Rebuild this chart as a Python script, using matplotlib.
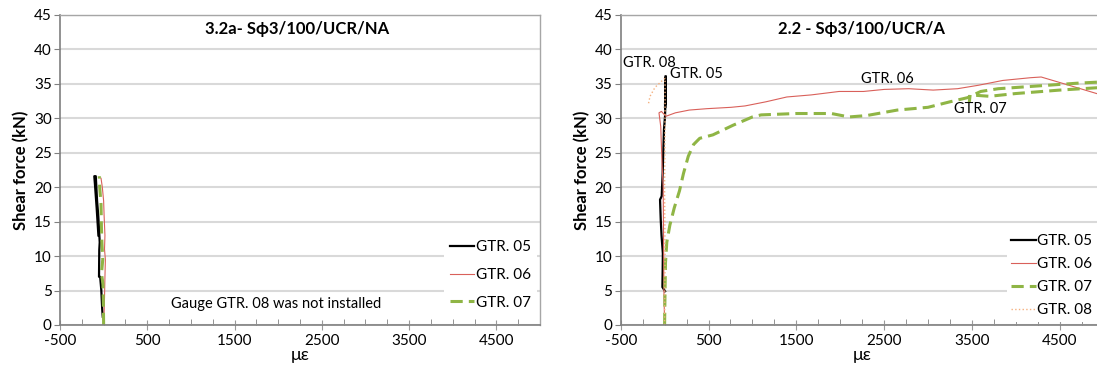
import numpy as np
import matplotlib
matplotlib.use('Agg')
import matplotlib.pyplot as plt
from matplotlib.ticker import MultipleLocator, FixedLocator

plt.rcParams['font.family'] = ['Lato', 'DejaVu Sans']
plt.rcParams['axes.unicode_minus'] = False

# ---- data: strain (microstrain) vs shear force (kN) ----
# specimen 3.2a (left)
a_gtr05_x = [-10, -16, -27, -40, -53, -50, -45, -61, -75, -90, -107, -100, -80, -60]
a_gtr05_y = [1.2, 2.2, 5.1, 7.0, 7.0, 10.9, 12.0, 15.8, 18.0, 21.6, 21.6, 20.5, 17.0, 13.0]
a_gtr06_x = [0, 5, 10, 15, 20, 10, 15, 5, 0, -15, -30]
a_gtr06_y = [0, 1.5, 4.0, 7.0, 9.5, 11.0, 13.0, 16.0, 18.0, 20.0, 21.3]
a_gtr07_x = [0, -3, -8, -25, -10, -20, -25, -30, -45, -50]
a_gtr07_y = [0, 3.0, 6.0, 7.5, 9.5, 12.0, 14.0, 17.5, 20.0, 21.6]

# specimen 2.2 (right)
b_gtr05_x = [5, -25, -22, -20, -35, -44, -52, -33, -22, -7, 5, 10, 5, 12, 8, 12, 5, 12]
b_gtr05_y = [4.9, 5.5, 8.0, 10.4, 13.0, 15.3, 18.2, 18.7, 22.1, 28.4, 30.3, 33.0, 32.0, 36.0, 34.0, 35.5, 31.5, 36.1]
b_gtr06_x = [0, -8, -16, -28, -44, -64, -36, 15, 123, 281, 480, 757, 916, 1154, 1392, 1670,
             1987, 2265, 2503, 2781, 3059, 3336, 3574, 3852, 4170, 4289, 4527, 4920, 5300, 5150]
b_gtr06_y = [0, 5.0, 20.0, 23.0, 28.8, 30.8, 31.0, 30.3, 30.8, 31.2, 31.4, 31.6, 31.8, 32.4, 33.1, 33.4,
             33.9, 33.9, 34.2, 34.3, 34.1, 34.3, 34.8, 35.5, 35.9, 36.0, 35.1, 33.6, 32.5, 31.8]
b_gtr07_x = [0, 5, 10, 25, 60, 110, 170, 215, 270, 330, 400, 550, 780, 1000, 1100, 1500, 1900, 2100,
             2300, 2650, 3000, 3250, 3450, 3600, 3800, 4250, 4700, 5000, 5000, 4500, 4000, 3700, 3480, 3470]
b_gtr07_y = [0, 5.0, 9.0, 12.0, 14.5, 17.0, 19.5, 22.0, 24.5, 26.2, 27.1, 27.6, 29.0, 30.2, 30.5, 30.7, 30.7, 30.2,
             30.4, 31.2, 31.6, 32.4, 33.0, 33.9, 34.3, 34.7, 35.1, 35.3, 34.5, 34.1, 33.6, 33.2, 33.4, 32.3]
b_gtr08_x = [0, 5, 0, 5, 5, -33, -109, -166, -186]
b_gtr08_y = [0, 10, 20, 30, 35.8, 35.4, 34.5, 33.2, 32.0]

black = 'black'
red = '#d9605a'
green = '#8fb545'
orange = '#f5b07e'


def styleAxes(ax):
    ax.set_xlim(-500, 5000)
    ax.set_ylim(0, 45)
    ax.xaxis.set_major_locator(FixedLocator(np.arange(-500, 5001, 1000)))
    ax.xaxis.set_minor_locator(MultipleLocator(250))
    ax.yaxis.set_major_locator(MultipleLocator(5))
    ax.tick_params(axis='x', which='major', direction='inout', length=7, color='#999999', labelsize=11, pad=3)
    ax.tick_params(axis='x', which='minor', direction='in', length=4, color='#808080')
    ax.tick_params(axis='y', which='major', direction='out', length=4, color='#808080', labelsize=11, pad=2)
    ax.grid(axis='y', color='#d9d9d9', lw=1.5)
    ax.set_axisbelow(True)
    for s in ['left', 'bottom']:
        ax.spines[s].set_color('#7f7f7f')
        ax.spines[s].set_linewidth(1.2)
    for s in ['top', 'right']:
        ax.spines[s].set_color('#a6a6a6')
        ax.spines[s].set_linewidth(1.0)
    ax.set_ylabel('Shear force (kN)', fontsize=12, fontweight='bold', labelpad=3)
    ax.set_xlabel('με', fontsize=13, labelpad=-1)


def whiteLegend(leg):
    frame = leg.get_frame()
    frame.set_edgecolor('none')
    frame.set_facecolor('white')
    frame.set_alpha(1)


fig = plt.figure(figsize=(10.97, 3.70), dpi=100)
ax1 = fig.add_axes([60 / 1097, 45 / 370, 480 / 1097, 310 / 370])
ax2 = fig.add_axes([620.7 / 1097, 45 / 370, 482.9 / 1097, 310 / 370])

# left panel
ax1.plot(a_gtr05_x, a_gtr05_y, color=black, lw=1.6, label='GTR. 05')
ax1.plot(a_gtr06_x, a_gtr06_y, color=red, lw=0.8, label='GTR. 06')
ax1.plot(a_gtr07_x, a_gtr07_y, color=green, lw=2.2, ls=(0, (4, 2)), label='GTR. 07')
styleAxes(ax1)
ax1.text(2215, 42.9, '3.2a- S\u03d53/100/UCR/NA', ha='center', va='center', fontsize=12, fontweight='bold')
ax1.text(1974, 3.0, 'Gauge GTR. 08 was not installed', ha='center', va='center', fontsize=10.5)
leg1 = ax1.legend(loc='lower right', bbox_to_anchor=(1.0, 0.02), frameon=True, fontsize=11,
                  handlelength=1.6, handletextpad=0.1, labelspacing=0.9, borderaxespad=0.2)
whiteLegend(leg1)

# right panel
ax2.plot(b_gtr05_x, b_gtr05_y, color=black, lw=1.6, label='GTR. 05')
ax2.plot(b_gtr06_x, b_gtr06_y, color=red, lw=0.8, label='GTR. 06')
ax2.plot(b_gtr07_x, b_gtr07_y, color=green, lw=2.2, ls=(0, (4, 2)), label='GTR. 07')
ax2.plot(b_gtr08_x, b_gtr08_y, color=orange, lw=1.0, ls=':', label='GTR. 08')
styleAxes(ax2)
ax2.spines['right'].set_visible(False)
ax2.text(2237, 42.9, '2.2 - S\u03d53/100/UCR/A', ha='center', va='center', fontsize=12, fontweight='bold')
ax2.text(-474, 38.1, 'GTR. 08', ha='left', va='center', fontsize=10.5)
ax2.text(62, 36.4, 'GTR. 05', ha='left', va='center', fontsize=10.5)
ax2.text(2237, 35.7, 'GTR. 06', ha='left', va='center', fontsize=10.5)
ax2.text(3298, 31.3, 'GTR. 07', ha='left', va='center', fontsize=10.5)
leg2 = ax2.legend(loc='lower right', bbox_to_anchor=(1.0, 48 / 370), bbox_transform=fig.transFigure,
                  frameon=True, fontsize=11, handlelength=1.6, handletextpad=0.1,
                  labelspacing=0.6, borderaxespad=0.0, borderpad=0.3)
whiteLegend(leg2)

fig.savefig('out.png', dpi=100)
